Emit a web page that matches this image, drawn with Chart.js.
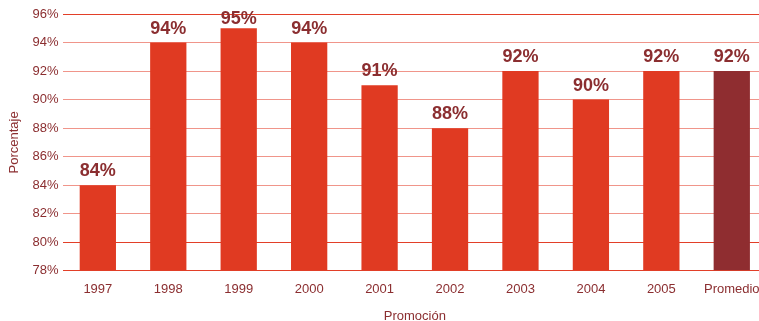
<!DOCTYPE html>
<html>
<head>
<meta charset="utf-8">
<script src="https://cdn.jsdelivr.net/npm/chart.js@4"></script>
<style>
html,body{margin:0;padding:0;background:#fff;overflow:hidden;width:759px;height:321px;}
#wrap{width:767px;height:321px;position:relative;}
</style>
</head>
<body>
<div id="wrap"><canvas id="c" width="767" height="321"></canvas></div>
<script>
const categories = ['1997','1998','1999','2000','2001','2002','2003','2004','2005','Promedio'];
const values = [84, 94, 95, 94, 91, 88, 92, 90, 92, 92];
const yTicks = [78, 80, 82, 84, 86, 88, 90, 92, 94, 96];

const barColor = '#e03a22';
const avgColor = '#8f2d30';
const textColor = '#8b2e30';
const font = "'Liberation Sans', Arial, sans-serif";

const labelPlugin = {
  id: 'valueLabels',
  afterDatasetsDraw(chart) {
    const ctx = chart.ctx;
    const meta = chart.getDatasetMeta(0);
    ctx.save();
    ctx.font = 'bold 18px ' + font;
    ctx.fillStyle = textColor;
    ctx.textAlign = 'center';
    ctx.textBaseline = 'alphabetic';
    meta.data.forEach((bar, i) => {
      const y = Math.max(bar.y - 9, 24);
      ctx.fillText(values[i] + '%', bar.x, y);
    });
    ctx.restore();
  }
};

new Chart(document.getElementById('c'), {
  type: 'bar',
  data: {
    labels: categories,
    datasets: [{
      data: values,
      backgroundColor: categories.map((c, i) => i === categories.length - 1 ? avgColor : barColor),
      categoryPercentage: 1,
      barPercentage: 0.515,
      base: 78
    }]
  },
  options: {
    responsive: false,
    animation: false,
    layout: { padding: { left: 7, right: 0, top: 14, bottom: -3 } },
    plugins: { legend: { display: false }, tooltip: { enabled: false } },
    scales: {
      x: {
        grid: { display: false },
        border: { display: false },
        ticks: { color: textColor, font: { family: font, size: 13 }, padding: 3 },
        title: { display: true, text: 'Promoción', color: textColor, font: { family: font, size: 13 }, padding: { top: 8, bottom: 0 } }
      },
      y: {
        min: 78, max: 96,
        afterBuildTicks(axis) { axis.ticks = yTicks.map(v => ({ value: v })); },
        grid: {
          drawTicks: false,
          color: (ctx) => {
            const v = ctx.tick && ctx.tick.value;
            return (v === 96 || v === 80 || v === 78) ? '#e23f28' : '#f0958a';
          },
          lineWidth: 1
        },
        border: { display: false },
        ticks: { color: textColor, font: { family: font, size: 13 }, padding: 4, callback: v => v + '%' },
        title: { display: true, text: 'Porcentaje', color: textColor, font: { family: font, size: 13 }, padding: { top: 0, bottom: 6 } }
      }
    }
  },
  plugins: [labelPlugin]
});
</script>
</body>
</html>
